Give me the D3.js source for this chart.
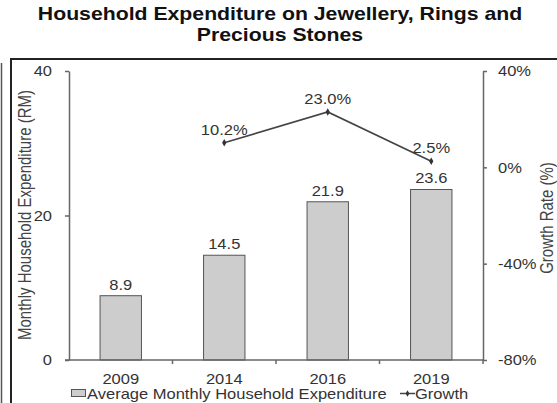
<!DOCTYPE html>
<html>
<head>
<meta charset="utf-8">
<script src="https://cdn.jsdelivr.net/npm/d3@7"></script>
<style>
  html, body { margin: 0; padding: 0; background: #fff; }
  svg { display: block; font-family: "Liberation Sans", Arial, sans-serif; }
</style>
</head>
<body>
<svg id="chart" width="557" height="403"></svg>
<script>
// Household spending on jewellery, rings and precious stones (RM / month)
const years = ["2009", "2014", "2016", "2019"];
const expenditure = [8.9, 14.5, 21.9, 23.6];
// Growth rate versus the previous survey year (%), none for the first year
const growthYears = ["2014", "2016", "2019"];
const growth = [10.2, 23.0, 2.5];
const leftTicks = [0, 20, 40];
const rightTicks = [-80, -40, 0, 40];
const titleLines = ["Household Expenditure on Jewellery, Rings and", "Precious Stones"];
const leftTitle = "Monthly Household Expenditure (RM)";
const rightTitle = "Growth Rate (%)";
const legendBar = "Average Monthly Household Expenditure";
const legendLine = "Growth";

const SX = 1.18; // horizontal text stretch
const svg = d3.select("#chart");

const plot = { left: 69, right: 483, top: 71, bottom: 360 };

const x = d3.scaleBand().domain(years).range([plot.left, plot.right]).padding(0);
const yL = d3.scaleLinear().domain([0, 40]).range([plot.bottom, plot.top]);
const yR = d3.scaleLinear().domain([-80, 40]).range([plot.bottom, plot.top]);

// outer frame
svg.append("line").attr("x1", 1.5).attr("x2", 1.5).attr("y1", 63).attr("y2", 403)
  .attr("stroke", "#555").attr("stroke-width", 1.5);
svg.append("path").attr("d", "M11,403 V59 H557")
  .attr("fill", "none").attr("stroke", "#222").attr("stroke-width", 2);

// title
svg.append("g").selectAll("text").data(titleLines).join("text")
  .attr("transform", (d, i) => `translate(280,${20 + i * 21}) scale(${SX},1)`)
  .attr("text-anchor", "middle")
  .attr("font-weight", "bold").attr("font-size", 18).attr("fill", "#111")
  .text(d => d);

const axisColor = "#666";
function styleAxis(g) {
  g.select(".domain").attr("stroke", axisColor).attr("stroke-width", 1.5);
  g.selectAll(".tick line").attr("stroke", axisColor).attr("stroke-width", 1.5);
  g.selectAll(".tick text").attr("fill", "#333").attr("font-size", 14)
    .attr("font-family", "Liberation Sans, Arial, sans-serif");
}

// bars
const barW = x.bandwidth() * 0.4;
svg.append("g").selectAll("rect").data(expenditure).join("rect")
  .attr("x", (d, i) => x(years[i]) + (x.bandwidth() - barW) / 2)
  .attr("y", d => yL(d))
  .attr("width", barW)
  .attr("height", d => yL(0) - yL(d))
  .attr("fill", "#cdcdcd").attr("stroke", "#555").attr("stroke-width", 1);

svg.append("g").selectAll("text").data(expenditure).join("text")
  .attr("transform", (d, i) => `translate(${x(years[i]) + x.bandwidth() / 2},${yL(d) - 6}) scale(${SX},1)`)
  .attr("text-anchor", "middle").attr("font-size", 14).attr("fill", "#333")
  .text(d => d.toFixed(1));

// left axis
const gL = svg.append("g").attr("transform", `translate(${plot.left},0)`)
  .call(d3.axisLeft(yL).tickValues(leftTicks).tickSize(4).tickSizeOuter(0));
styleAxis(gL);
gL.selectAll(".tick text").attr("x", 0).attr("dy", "0.35em")
  .attr("transform", `translate(-17,0) scale(${SX},1)`);

// right axis
const gR = svg.append("g").attr("transform", `translate(${plot.right},0)`)
  .call(d3.axisRight(yR).tickValues(rightTicks).tickSize(4).tickSizeOuter(0)
    .tickFormat(d => d + "%"));
styleAxis(gR);
gR.selectAll(".tick text").attr("x", 0).attr("dy", "0.35em")
  .attr("transform", `translate(15,0) scale(${SX},1)`);

// bottom axis: labels at band centres, ticks at band edges
const gB = svg.append("g").attr("transform", `translate(0,${plot.bottom})`)
  .call(d3.axisBottom(x).tickSize(0).tickSizeOuter(0));
styleAxis(gB);
gB.select(".domain").attr("d", `M${plot.left - 4},0H${plot.right}`);
gB.selectAll(".tick text").attr("y", 0).attr("dy", null)
  .attr("transform", `translate(0,24) scale(${SX},1)`);
gB.selectAll("line.edge").data(years).join("line").attr("class", "edge")
  .attr("x1", d => x(d) + x.step()).attr("x2", d => x(d) + x.step())
  .attr("y1", 0).attr("y2", 4)
  .attr("stroke", axisColor).attr("stroke-width", 1.5);

// growth line
const line = d3.line().x((d, i) => x(growthYears[i]) + x.bandwidth() / 2).y(d => yR(d));
svg.append("path").datum(growth).attr("d", line)
  .attr("fill", "none").attr("stroke", "#444").attr("stroke-width", 1.6);
svg.append("g").selectAll("path").data(growth).join("path")
  .attr("transform", (d, i) => `translate(${x(growthYears[i]) + x.bandwidth() / 2},${yR(d)})`)
  .attr("d", d3.symbol(d3.symbolDiamond, 16))
  .attr("fill", "#333");
svg.append("g").selectAll("text").data(growth).join("text")
  .attr("transform", (d, i) => `translate(${x(growthYears[i]) + x.bandwidth() / 2},${yR(d) - 8}) scale(${SX},1)`)
  .attr("text-anchor", "middle").attr("font-size", 14).attr("fill", "#333")
  .text(d => d.toFixed(1) + "%");

// axis titles
svg.append("text")
  .attr("transform", `translate(31,215) rotate(-90) scale(1,${SX})`)
  .attr("text-anchor", "middle").attr("font-size", 15).attr("fill", "#444")
  .text(leftTitle);
svg.append("text")
  .attr("transform", `translate(553,218) rotate(-90) scale(1,${SX})`)
  .attr("text-anchor", "middle").attr("font-size", 15).attr("fill", "#444")
  .text(rightTitle);

// legend
const lg = svg.append("g");
lg.append("rect").attr("x", 71.5).attr("y", 389.5).attr("width", 14).attr("height", 7)
  .attr("fill", "#cdcdcd").attr("stroke", "#555").attr("stroke-width", 1);
lg.append("text").attr("transform", `translate(87,399) scale(${SX},1)`)
  .attr("font-size", 14).attr("fill", "#333").text(legendBar);
lg.append("line").attr("x1", 400).attr("x2", 415).attr("y1", 393.5).attr("y2", 393.5)
  .attr("stroke", "#444").attr("stroke-width", 1.5);
lg.append("path").attr("transform", "translate(407.5,393.5)")
  .attr("d", d3.symbol(d3.symbolDiamond, 12)).attr("fill", "#333");
lg.append("text").attr("transform", `translate(415,399) scale(${SX},1)`)
  .attr("font-size", 14).attr("fill", "#333").text(legendLine);
</script>
</body>
</html>
